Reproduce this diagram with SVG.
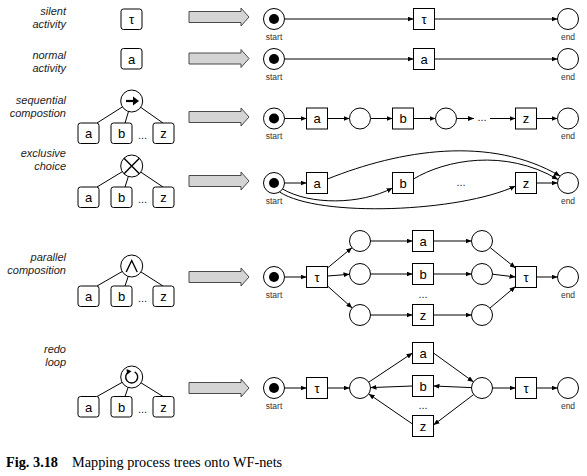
<svg xmlns="http://www.w3.org/2000/svg" width="587" height="476" viewBox="0 0 587 476">
<defs>
<style>
.side{font-family:"Liberation Sans",Arial,sans-serif;font-style:italic;font-size:11px;fill:#222;text-anchor:end}
.op{fill:#fff;stroke:#000;stroke-width:1}
.tb{fill:#fff;stroke:#000;stroke-width:1}
.tl{fill:none;stroke:#000;stroke-width:1}
.t{font-family:"Liberation Sans",Arial,sans-serif;font-size:13px;text-anchor:middle;fill:#000}
.dots{font-family:"Liberation Sans",Arial,sans-serif;font-size:11px;text-anchor:middle;fill:#222}
.big{fill:#d4d4d4;stroke:#4a4a4a;stroke-width:1}
.pl{fill:#fff;stroke:#000;stroke-width:1}
.tok{fill:#000}
.tr{fill:#fff;stroke:#000;stroke-width:1}
.arc{fill:none;stroke:#000;stroke-width:1;marker-end:url(#ah)}
.lbl{font-family:"Liberation Sans",Arial,sans-serif;font-size:8.5px;fill:#333;text-anchor:middle}
.cap{font-family:"Liberation Serif","Times New Roman",serif;font-size:14.3px;fill:#000}
.sym{fill:none;stroke:#000;stroke-width:1.4}
</style>
<marker id="ah" viewBox="0 0 6 5" refX="6" refY="2.5" markerWidth="6" markerHeight="5" orient="auto" markerUnits="userSpaceOnUse"><path d="M0,0 L6,2.5 L0,5 z" fill="#000"/></marker>
<path id="ga" class="big" d="M189,-5.5 H241 V-9 L249,0 L241,9 V5.5 H189 Z"/>
</defs>

<!-- side labels -->
<g id="labels">
<text class="side" x="66" y="15">silent</text>
<text class="side" x="66" y="28">activity</text>
<text class="side" x="66" y="59">normal</text>
<text class="side" x="66" y="72">activity</text>
<text class="side" x="66" y="104">sequential</text>
<text class="side" x="66" y="117">compostion</text>
<text class="side" x="66" y="157">exclusive</text>
<text class="side" x="66" y="170">choice</text>
<text class="side" x="66" y="261">parallel</text>
<text class="side" x="66" y="274">composition</text>
<text class="side" x="66" y="353">redo</text>
<text class="side" x="66" y="366">loop</text>
</g>

<!-- process trees -->
<g id="tree-silent"><rect class="tb" x="121" y="9" width="21" height="20.5" rx="2.5"/><text class="t" x="131.5" y="24">τ</text></g>
<g id="tree-normal"><rect class="tb" x="121" y="48.5" width="21" height="20.5" rx="2.5"/><text class="t" x="131.5" y="63.5">a</text></g>

<g id="tree-seq">
<path class="tl" d="M131.7,101 L97,123 M131.7,101 L125,123 M131.7,101 L163,123"/>
<circle class="op" cx="131.7" cy="101" r="11"/>
<path d="M126,101 H134" stroke="#000" stroke-width="2.2"/>
<path d="M133,96.5 L139,101 L133,105.5 Z" fill="#000"/>
<rect class="tb" x="78" y="123" width="21" height="20.5" rx="2.5"/><text class="t" x="88.5" y="138">a</text>
<rect class="tb" x="111" y="123" width="21" height="20.5" rx="2.5"/><text class="t" x="121.5" y="138">b</text>
<text class="dots" x="142.5" y="139">...</text>
<rect class="tb" x="153" y="123" width="21" height="20.5" rx="2.5"/><text class="t" x="163.5" y="138">z</text>
</g>

<g id="tree-xor">
<path class="tl" d="M131.7,166 L97,187 M131.7,166 L125,187 M131.7,166 L163,187"/>
<circle class="op" cx="131.7" cy="166" r="11"/>
<path class="sym" d="M124,158.3 L139.4,173.7 M139.4,158.3 L124,173.7"/>
<rect class="tb" x="78" y="187" width="21" height="20.5" rx="2.5"/><text class="t" x="88.5" y="202">a</text>
<rect class="tb" x="111" y="187" width="21" height="20.5" rx="2.5"/><text class="t" x="121.5" y="202">b</text>
<text class="dots" x="142.5" y="203">...</text>
<rect class="tb" x="153" y="187" width="21" height="20.5" rx="2.5"/><text class="t" x="163.5" y="202">z</text>
</g>

<g id="tree-and">
<path class="tl" d="M131.7,266 L97,286 M131.7,266 L125,286 M131.7,266 L163,286"/>
<circle class="op" cx="131.7" cy="266" r="11"/>
<path class="sym" d="M126.2,272 L131.7,260.5 L137.2,272"/>
<rect class="tb" x="78" y="286" width="21" height="20.5" rx="2.5"/><text class="t" x="88.5" y="301">a</text>
<rect class="tb" x="111" y="286" width="21" height="20.5" rx="2.5"/><text class="t" x="121.5" y="301">b</text>
<text class="dots" x="142.5" y="302">...</text>
<rect class="tb" x="153" y="286" width="21" height="20.5" rx="2.5"/><text class="t" x="163.5" y="301">z</text>
</g>

<g id="tree-loop">
<path class="tl" d="M131.7,377 L97,396.5 M131.7,377 L125,396.5 M131.7,377 L163,396.5"/>
<circle class="op" cx="131.7" cy="377" r="11"/>
<path class="sym" d="M128.7,371.8 A6,6 0 1,0 134.7,371.8"/>
<path d="M126.5,369 L131.5,371.2 L127.2,374.6 Z" fill="#000"/>
<rect class="tb" x="78" y="396.5" width="21" height="20.5" rx="2.5"/><text class="t" x="88.5" y="411.5">a</text>
<rect class="tb" x="111" y="396.5" width="21" height="20.5" rx="2.5"/><text class="t" x="121.5" y="411.5">b</text>
<text class="dots" x="142.5" y="412.5">...</text>
<rect class="tb" x="153" y="396.5" width="21" height="20.5" rx="2.5"/><text class="t" x="163.5" y="411.5">z</text>
</g>

<!-- mapping arrows -->
<g id="maps">
<use href="#ga" y="17"/>
<use href="#ga" y="58.5"/>
<use href="#ga" y="117"/>
<use href="#ga" y="181"/>
<use href="#ga" y="277"/>
<use href="#ga" y="388"/>
</g>

<!-- connectors -->
<g id="connectors">
<path class="arc" d="M284.5,19 H413.5"/>
<path class="arc" d="M434.5,19 H557.5"/>
<path class="arc" d="M284.5,59 H413.5"/>
<path class="arc" d="M434.5,59 H557.5"/>

<path class="arc" d="M284.5,118.5 H306.5"/>
<path class="arc" d="M327.5,118.5 H349.5"/>
<path class="arc" d="M370.5,118.5 H392.5"/>
<path class="arc" d="M413.5,118.5 H435.5"/>
<path class="arc" d="M456.5,118.5 H474"/>
<path class="arc" d="M490,118.5 H515.5"/>
<path class="arc" d="M536.5,118.5 H557.5"/>

<path class="arc" d="M284.5,183 H306.5"/>
<path class="arc" d="M327.5,179 C400,150 490,135 560,176"/>
<path class="arc" d="M413.5,179 C445,160 505,148 558,179.5"/>
<path class="arc" d="M536.5,183 H557.5"/>
<path class="arc" d="M282.5,189 C310,205 360,205 392.5,188"/>
<path class="arc" d="M279.5,192 C320,218 460,212 515.5,186"/>

<path class="arc" d="M284.5,277 H306.5"/>
<path class="arc" d="M327.5,268 L352,247.7"/>
<path class="arc" d="M327.5,276 L349.5,274.3"/>
<path class="arc" d="M327.5,286 L352.2,308"/>
<path class="arc" d="M370.5,241 H412.5"/>
<path class="arc" d="M370.5,274 H412.5"/>
<path class="arc" d="M370.5,315 H412.5"/>
<path class="arc" d="M433.5,241 H471.5"/>
<path class="arc" d="M433.5,274 H471.5"/>
<path class="arc" d="M433.5,315 H471.5"/>
<path class="arc" d="M490.2,247.6 L515.5,268"/>
<path class="arc" d="M492.5,274.2 L515.5,277"/>
<path class="arc" d="M489.9,308.1 L515.5,286.5"/>
<path class="arc" d="M536.5,277 H557.5"/>

<path class="arc" d="M284.5,388 H306.5"/>
<path class="arc" d="M327.5,388 H349.5"/>
<path class="arc" d="M368.7,382.2 L412.5,353"/>
<path class="arc" d="M433.5,353 L473.5,381.9"/>
<path class="arc" d="M471.5,387.6 L433.5,386"/>
<path class="arc" d="M412.5,386 L370.5,387.6"/>
<path class="arc" d="M473.7,394.5 L433.5,425"/>
<path class="arc" d="M412.5,424 L368.7,393.9"/>
<path class="arc" d="M492.5,388 H515.5"/>
<path class="arc" d="M536.5,388 H557.5"/>
</g>

<!-- row 1: silent activity -->
<g id="r1-start"><circle class="pl" cx="274" cy="19" r="10.5"/><circle class="tok" cx="274" cy="19" r="5"/><text class="lbl" x="274" y="39.5">start</text></g>
<g id="r1-tau"><rect class="tr" x="413.5" y="8.5" width="21" height="21"/><text class="t" x="424" y="23.5">τ</text></g>
<g id="r1-end"><circle class="pl" cx="568" cy="19" r="10.5"/><text class="lbl" x="568" y="39.5">end</text></g>

<!-- row 2: normal activity -->
<g id="r2-start"><circle class="pl" cx="274" cy="59" r="10.5"/><circle class="tok" cx="274" cy="59" r="5"/><text class="lbl" x="274" y="79.5">start</text></g>
<g id="r2-a"><rect class="tr" x="413.5" y="48.5" width="21" height="21"/><text class="t" x="424" y="63.5">a</text></g>
<g id="r2-end"><circle class="pl" cx="568" cy="59" r="10.5"/><text class="lbl" x="568" y="79.5">end</text></g>

<!-- row 3: sequence -->
<g id="r3-start"><circle class="pl" cx="274" cy="118.5" r="10.5"/><circle class="tok" cx="274" cy="118.5" r="5"/><text class="lbl" x="274" y="139">start</text></g>
<g id="r3-a"><rect class="tr" x="306.5" y="108" width="21" height="21"/><text class="t" x="317" y="123">a</text></g>
<g id="r3-p1"><circle class="pl" cx="360" cy="118.5" r="10.5"/></g>
<g id="r3-b"><rect class="tr" x="392.5" y="108" width="21" height="21"/><text class="t" x="403" y="123">b</text></g>
<g id="r3-p2"><circle class="pl" cx="446" cy="118.5" r="10.5"/></g>
<g id="r3-dots"><text class="dots" x="482" y="121">...</text></g>
<g id="r3-z"><rect class="tr" x="515.5" y="108" width="21" height="21"/><text class="t" x="526" y="123">z</text></g>
<g id="r3-end"><circle class="pl" cx="568" cy="118.5" r="10.5"/><text class="lbl" x="568" y="139">end</text></g>

<!-- row 4: exclusive choice -->
<g id="r4-start"><circle class="pl" cx="274" cy="183" r="10.5"/><circle class="tok" cx="274" cy="183" r="5"/><text class="lbl" x="274" y="203.5">start</text></g>
<g id="r4-a"><rect class="tr" x="306.5" y="172.5" width="21" height="21"/><text class="t" x="317" y="187.5">a</text></g>
<g id="r4-b"><rect class="tr" x="392.5" y="172.5" width="21" height="21"/><text class="t" x="403" y="187.5">b</text></g>
<g id="r4-dots"><text class="dots" x="461" y="186">...</text></g>
<g id="r4-z"><rect class="tr" x="515.5" y="172.5" width="21" height="21"/><text class="t" x="526" y="187.5">z</text></g>
<g id="r4-end"><circle class="pl" cx="568" cy="183" r="10.5"/><text class="lbl" x="568" y="203.5">end</text></g>

<!-- row 5: parallel -->
<g id="r5-start"><circle class="pl" cx="274" cy="277" r="10.5"/><circle class="tok" cx="274" cy="277" r="5"/><text class="lbl" x="274" y="297.5">start</text></g>
<g id="r5-tau1"><rect class="tr" x="306.5" y="266.5" width="21" height="21"/><text class="t" x="317" y="281.5">τ</text></g>
<g id="r5-pa1"><circle class="pl" cx="360" cy="241" r="10.5"/></g>
<g id="r5-pb1"><circle class="pl" cx="360" cy="274" r="10.5"/></g>
<g id="r5-pz1"><circle class="pl" cx="360" cy="315" r="10.5"/></g>
<g id="r5-a"><rect class="tr" x="412.5" y="230.5" width="21" height="21"/><text class="t" x="423" y="245.5">a</text></g>
<g id="r5-b"><rect class="tr" x="412.5" y="263.5" width="21" height="21"/><text class="t" x="423" y="278.5">b</text></g>
<g id="r5-dots"><text class="dots" x="423" y="298">...</text></g>
<g id="r5-z"><rect class="tr" x="412.5" y="304.5" width="21" height="21"/><text class="t" x="423" y="319.5">z</text></g>
<g id="r5-pa2"><circle class="pl" cx="482" cy="241" r="10.5"/></g>
<g id="r5-pb2"><circle class="pl" cx="482" cy="274" r="10.5"/></g>
<g id="r5-pz2"><circle class="pl" cx="482" cy="315" r="10.5"/></g>
<g id="r5-tau2"><rect class="tr" x="515.5" y="266.5" width="21" height="21"/><text class="t" x="526" y="281.5">τ</text></g>
<g id="r5-end"><circle class="pl" cx="568" cy="277" r="10.5"/><text class="lbl" x="568" y="297.5">end</text></g>

<!-- row 6: redo loop -->
<g id="r6-start"><circle class="pl" cx="274" cy="388" r="10.5"/><circle class="tok" cx="274" cy="388" r="5"/><text class="lbl" x="274" y="408.5">start</text></g>
<g id="r6-tau1"><rect class="tr" x="306.5" y="377.5" width="21" height="21"/><text class="t" x="317" y="392.5">τ</text></g>
<g id="r6-p1"><circle class="pl" cx="360" cy="388" r="10.5"/></g>
<g id="r6-a"><rect class="tr" x="412.5" y="342.5" width="21" height="21"/><text class="t" x="423" y="357.5">a</text></g>
<g id="r6-b"><rect class="tr" x="412.5" y="375.5" width="21" height="21"/><text class="t" x="423" y="390.5">b</text></g>
<g id="r6-dots"><text class="dots" x="423" y="409">...</text></g>
<g id="r6-z"><rect class="tr" x="412.5" y="415.5" width="21" height="21"/><text class="t" x="423" y="430.5">z</text></g>
<g id="r6-p2"><circle class="pl" cx="482" cy="388" r="10.5"/></g>
<g id="r6-tau2"><rect class="tr" x="515.5" y="377.5" width="21" height="21"/><text class="t" x="526" y="392.5">τ</text></g>
<g id="r6-end"><circle class="pl" cx="568" cy="388" r="10.5"/><text class="lbl" x="568" y="408.5">end</text></g>

<text class="cap" x="6" y="467"><tspan font-weight="bold">Fig. 3.18</tspan><tspan x="72">Mapping process trees onto WF-nets</tspan></text>
</svg>
